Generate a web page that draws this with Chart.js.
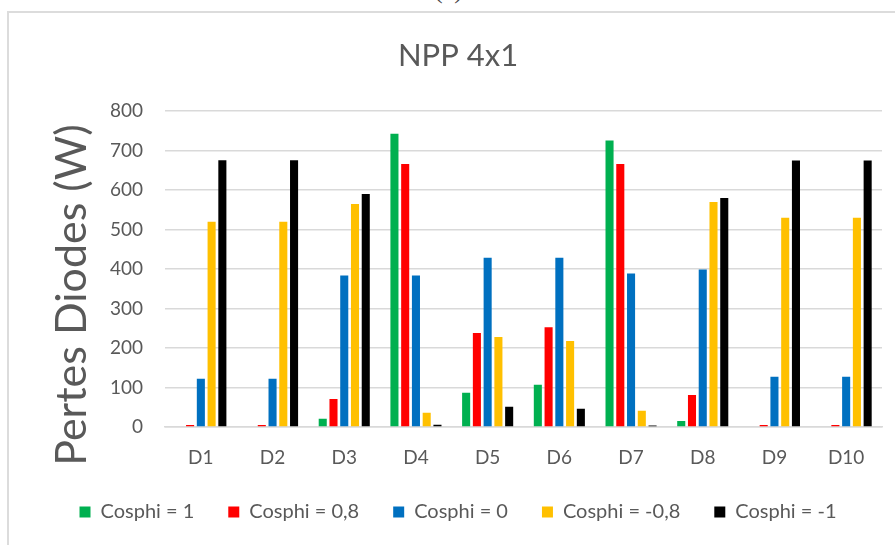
<!DOCTYPE html>
<html>
<head>
<meta charset="utf-8">
<script src="https://cdn.jsdelivr.net/npm/chart.js@4"></script>
<style>
  html, body { margin: 0; padding: 0; background: #fff; overflow: hidden; }
  body { width: 895px; height: 545px; position: relative; }
  #caption { position: absolute; left: 434px; top: -25px; font: 26px "Liberation Serif", serif; color: #444; }
  #frame { position: absolute; left: 7px; top: 11px; width: 903px; height: 540px;
           border-left: 2px solid #dcdcdc; border-top: 2px solid #dcdcdc; }
  canvas { display: block; }
</style>
</head>
<body>
<div id="caption">(a)</div>
<div id="frame"><canvas id="chart" width="903" height="532"></canvas></div>
<script>
const categories = ['D1', 'D2', 'D3', 'D4', 'D5', 'D6', 'D7', 'D8', 'D9', 'D10'];
const cosphi1 = [0, 0, 21, 743, 87, 107, 726, 15, 0, 0];
const cosphi08 = [5, 5, 71, 666, 238, 253, 666, 81, 5, 5];
const cosphi0 = [122, 122, 384, 384, 429, 429, 389, 399, 127, 127];
const cosphiM08 = [520, 520, 565, 36, 228, 218, 41, 570, 530, 530];
const cosphiM1 = [676, 676, 590, 6, 51, 46, 4, 580, 675, 675];
const seriesNames = ['Cosphi = 1', 'Cosphi = 0,8', 'Cosphi = 0', 'Cosphi = -0,8', 'Cosphi = -1'];
const seriesColors = ['#00B050', '#FF0000', '#0070C0', '#FFC000', '#000000'];
const yMin = 0, yMax = 800, yStep = 100;

const textColor = '#595959';
const fontFamily = 'Lato, "Open Sans", sans-serif';

// Rotated y-axis title, placed a bit below the plot centre like the original
const yTitlePlugin = {
    id: 'yTitle',
    afterDraw(chart) {
        const ctx = chart.ctx;
        ctx.save();
        ctx.translate(63, 282);
        ctx.rotate(-Math.PI / 2);
        ctx.font = '43px ' + fontFamily;
        ctx.fillStyle = textColor;
        ctx.textAlign = 'center';
        ctx.textBaseline = 'middle';
        ctx.fillText('Pertes Diodes (W)', 0, 0);
        ctx.restore();
    }
};

const allSeries = [cosphi1, cosphi08, cosphi0, cosphiM08, cosphiM1];

new Chart(document.getElementById('chart'), {
    type: 'bar',
    data: {
        labels: categories,
        datasets: allSeries.map((values, i) => ({
            label: seriesNames[i],
            data: values,
            backgroundColor: seriesColors[i],
            borderWidth: 0,
            categoryPercentage: 0.75,
            barPercentage: 0.75
        }))
    },
    options: {
        responsive: false,
        animation: false,
        layout: { padding: { left: 25, right: 30, top: 0, bottom: 13 } },
        plugins: {
            title: {
                display: true,
                text: 'NPP 4x1',
                color: textColor,
                font: { family: fontFamily, size: 31, weight: 'normal' },
                padding: { top: 24, bottom: 37 }
            },
            legend: {
                position: 'bottom',
                labels: {
                    color: textColor,
                    font: { family: fontFamily, size: 20 },
                    boxWidth: 11,
                    boxHeight: 11,
                    padding: 34
                }
            },
            tooltip: { enabled: false }
        },
        scales: {
            x: {
                afterFit(scale) { scale.height = 41; },
                grid: { display: false },
                border: { display: true, color: '#d9d9d9', width: 1.5 },
                ticks: { color: textColor, font: { family: fontFamily, size: 19 }, padding: 11 }
            },
            y: {
                min: yMin,
                max: yMax,
                afterFit(scale) { scale.width = 131; },
                grid: { color: '#d9d9d9', lineWidth: 1.5, drawTicks: false },
                border: { display: false },
                ticks: { stepSize: yStep, color: textColor, font: { family: fontFamily, size: 19 }, padding: 22 }
            }
        }
    },
    plugins: [yTitlePlugin]
});
</script>
</body>
</html>
